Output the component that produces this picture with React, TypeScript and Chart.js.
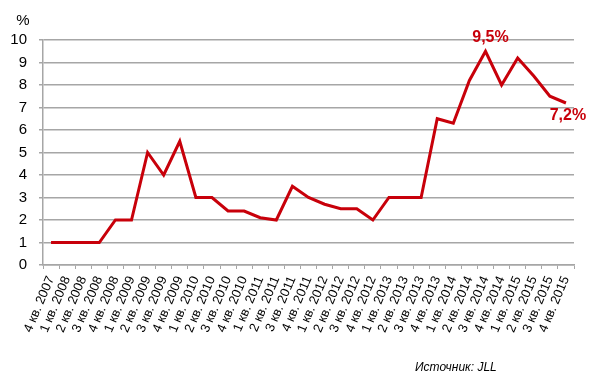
import React, { useEffect, useRef } from "react";
import { Chart, registerables } from "chart.js";

Chart.register(...registerables);

const categories = [
  "4 кв. 2007", "1 кв. 2008", "2 кв. 2008", "3 кв. 2008", "4 кв. 2008",
  "1 кв. 2009", "2 кв. 2009", "3 кв. 2009", "4 кв. 2009",
  "1 кв. 2010", "2 кв. 2010", "3 кв. 2010", "4 кв. 2010",
  "1 кв. 2011", "2 кв. 2011", "3 кв. 2011", "4 кв. 2011",
  "1 кв. 2012", "2 кв. 2012", "3 кв. 2012", "4 кв. 2012",
  "1 кв. 2013", "2 кв. 2013", "3 кв. 2013", "4 кв. 2013",
  "1 кв. 2014", "2 кв. 2014", "3 кв. 2014", "4 кв. 2014",
  "1 кв. 2015", "2 кв. 2015", "3 кв. 2015", "4 кв. 2015",
];

const vacancy = [
  1, 1, 1, 1, 2,
  2, 5, 4, 5.5,
  3, 3, 2.4, 2.4,
  2.1, 2, 3.5, 3,
  2.7, 2.5, 2.5, 2,
  3, 3, 3, 6.5,
  6.3, 8.2, 9.5, 8,
  9.2, 8.4, 7.5, 7.2,
];

const annotations = [
  { index: 27, text: "9,5%", dx: 5, dy: -14 },
  { index: 32, text: "7,2%", dx: 2, dy: 13 },
];

const yTitle = "%";
const sourceText = "Источник: JLL";
const RED = "#c8000a";

export default function App() {
  const ref = useRef<HTMLCanvasElement | null>(null);

  useEffect(() => {
    if (!ref.current) return;
    const textPlugin = {
      id: "texts",
      afterDraw(chart: any) {
        const ctx = chart.ctx;
        const xs = chart.scales.x;
        const ys = chart.scales.y;
        ctx.save();
        ctx.fillStyle = RED;
        ctx.font = "bold 16px 'Liberation Sans', Arial, sans-serif";
        ctx.textAlign = "center";
        ctx.textBaseline = "middle";
        annotations.forEach((a) => {
          const x = xs.getPixelForValue(a.index);
          const y = ys.getPixelForValue(vacancy[a.index]);
          ctx.fillText(a.text, x + a.dx, y + a.dy);
        });
        ctx.fillStyle = "#000";
        ctx.font = "15px 'Liberation Sans', Arial, sans-serif";
        ctx.fillText(yTitle, 23, 21);
        ctx.font = "italic 12px 'Liberation Sans', Arial, sans-serif";
        ctx.textAlign = "left";
        ctx.fillText(sourceText, 415, 368);
        ctx.restore();
      },
    };

    const chart = new Chart(ref.current, {
      type: "line",
      data: {
        labels: categories,
        datasets: [
          {
            data: vacancy,
            borderColor: RED,
            borderWidth: 3,
            pointRadius: 0,
            tension: 0,
            fill: false,
          },
        ],
      },
      options: {
        animation: false,
        responsive: false,
        maintainAspectRatio: false,
        layout: { padding: { top: 40, right: 26, left: 0, bottom: 0 } },
        plugins: { legend: { display: false }, tooltip: { enabled: false } },
        scales: {
          x: {
            offset: true,
            grid: {
              offset: true,
              drawOnChartArea: false,
              drawTicks: true,
              tickLength: 4,
              color: "#a6a6a6",
            },
            border: { color: "#a6a6a6", width: 1.5 },
            ticks: {
              autoSkip: false,
              minRotation: 67,
              maxRotation: 67,
              color: "#000",
              padding: 5,
              font: { size: 13, family: "'Liberation Sans', Arial, sans-serif" },
            },
            afterFit(scale: any) {
              scale.height = 115;
            },
          },
          y: {
            min: 0,
            max: 10,
            ticks: {
              stepSize: 1,
              color: "#000",
              padding: 12,
              font: { size: 15, family: "'Liberation Sans', Arial, sans-serif" },
            },
            grid: { color: "#a6a6a6", lineWidth: 1.5, tickLength: 4 },
            border: { color: "#a6a6a6", width: 1.5 },
            afterFit(scale: any) {
              scale.width = 43;
            },
          },
        },
      },
      plugins: [textPlugin],
    });
    return () => chart.destroy();
  }, []);

  return (
    <div style={{ position: "absolute", left: 0, top: 0, width: 600, height: 380, background: "#fff" }}>
      <canvas ref={ref} width={600} height={380} />
    </div>
  );
}
